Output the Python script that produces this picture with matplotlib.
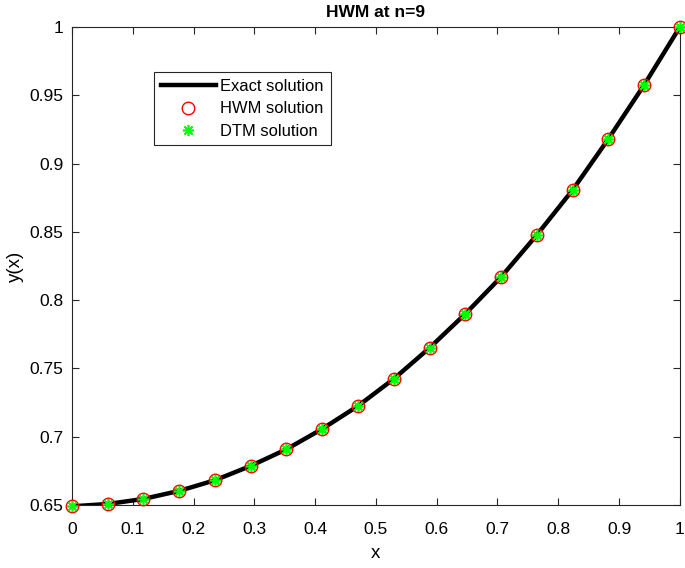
import matplotlib
matplotlib.use("Agg")
import matplotlib.pyplot as plt
import numpy as np

plt.rcParams['font.family'] = ['Liberation Sans', 'DejaVu Sans']

x_vals = [i / 17 for i in range(18)]
y_exact = [0.6490, 0.6507, 0.6544, 0.6603, 0.6681, 0.6786, 0.6908, 0.7057, 0.7225,
           0.7423, 0.7650, 0.7899, 0.8169, 0.8477, 0.8806, 0.9180, 0.9575, 1.0000]
y_hwm = list(y_exact)
y_dtm = list(y_exact)

xticks = [0, 0.1, 0.2, 0.3, 0.4, 0.5, 0.6, 0.7, 0.8, 0.9, 1]
xtick_labels = ['0', '0.1', '0.2', '0.3', '0.4', '0.5', '0.6', '0.7', '0.8', '0.9', '1']
yticks = [0.65, 0.7, 0.75, 0.8, 0.85, 0.9, 0.95, 1]
ytick_labels = ['0.65', '0.7', '0.75', '0.8', '0.85', '0.9', '0.95', '1']

fig = plt.figure(figsize=(6.85, 5.68), dpi=100)
ax = fig.add_axes([0.105, 0.111, 0.8875, 0.8415])

ax.plot(x_vals, y_exact, color='black', linewidth=3.2, label='Exact solution', zorder=2)
ax.plot(x_vals, y_hwm, linestyle='none', marker='o', markersize=9, markerfacecolor='none',
        markeredgecolor='red', markeredgewidth=1.0, label='HWM solution', zorder=3,
        clip_on=False)
ax.plot(x_vals, y_dtm, linestyle='none', marker=(8, 2, 0), markersize=8,
        markeredgecolor='#00ff00', markeredgewidth=1.2, label='DTM solution', zorder=4,
        clip_on=False)

ax.set_xlim(0, 1)
ax.set_ylim(0.65, 1)
ax.set_xticks(xticks)
ax.set_xticklabels(xtick_labels)
ax.set_yticks(yticks)
ax.set_yticklabels(ytick_labels)
ax.tick_params(direction='in', top=True, right=True, labelsize=12.5, colors='#262626',
               length=5, width=0.8)
ax.tick_params(axis='x', pad=12)
ax.tick_params(axis='y', pad=6)
for lab in ax.get_xticklabels() + ax.get_yticklabels():
    lab.set_color('black')
for s in ax.spines.values():
    s.set_color('#262626')
    s.set_linewidth(0.8)

ax.set_xlabel('x', fontsize=13.5, labelpad=6)
ax.set_ylabel('y(x)', fontsize=13.5, labelpad=4)
ax.set_title('HWM at n=9', fontsize=12.5, fontweight='bold', pad=7)

leg = ax.legend(loc='upper left', bbox_to_anchor=(0.122, 0.9225), fontsize=11.9,
                fancybox=False, framealpha=1, edgecolor='#262626', handlelength=3.3,
                borderpad=0.4, labelspacing=0.45, handletextpad=0.3)
leg.get_frame().set_linewidth(0.8)

fig.savefig('out.png', dpi=100)
